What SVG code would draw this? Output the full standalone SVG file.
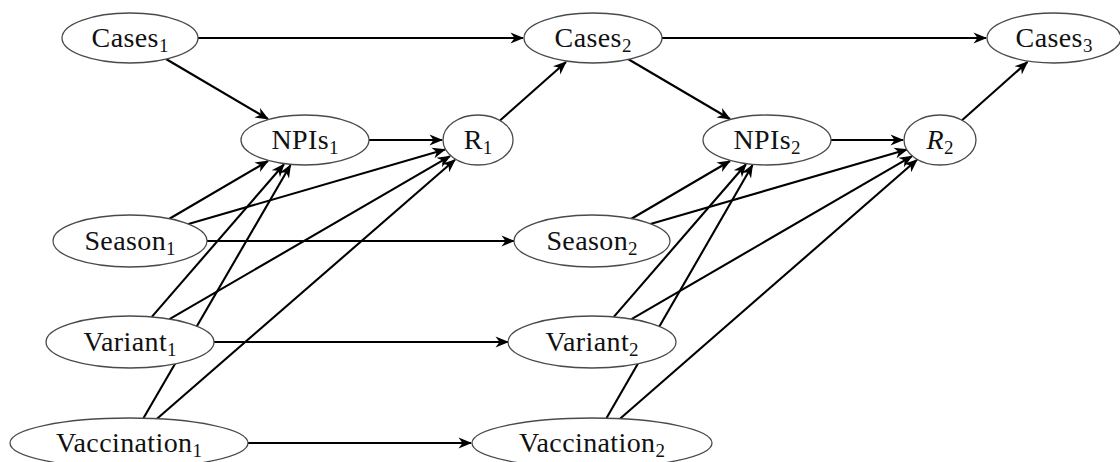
<svg xmlns="http://www.w3.org/2000/svg" width="1120" height="462" viewBox="0 0 1120 462">
<style>
.n ellipse{fill:#fff;stroke:#4a4a4a;stroke-width:1.3}
.n text{font-family:"Liberation Serif","Times New Roman",serif;font-size:28px;letter-spacing:0.4px;fill:#111;text-anchor:middle}
.sub{font-size:19px;letter-spacing:0}
#edges line{stroke:#000;stroke-width:2.1;fill:none;marker-end:url(#arr)}
</style>
<defs>
<marker id="arr" markerUnits="userSpaceOnUse" markerWidth="16" markerHeight="14" viewBox="-14 -7 16 14" refX="0" refY="0" orient="auto">
<path d="M1,0 L-12.5,-5.5 L-8.5,0 L-12.5,5.5 Z" fill="#000"/>
</marker>
</defs>
<rect width="1120" height="462" fill="#fff"/>
<g id="edges">
<line x1="198" y1="38" x2="523" y2="38"/>
<line x1="661" y1="38" x2="986" y2="38"/>
<line x1="166" y1="59" x2="268" y2="119"/>
<line x1="628" y1="59" x2="730" y2="119"/>
<line x1="369" y1="140" x2="442" y2="140"/>
<line x1="831" y1="140" x2="903" y2="140"/>
<line x1="500" y1="120.5" x2="566" y2="62"/>
<line x1="962" y1="120.3" x2="1027.5" y2="62"/>
<line x1="169" y1="219" x2="268" y2="161"/>
<line x1="188.4" y1="224" x2="445" y2="149.6"/>
<line x1="207" y1="241" x2="514" y2="241"/>
<line x1="151.8" y1="316.9" x2="284" y2="164.3"/>
<line x1="169.5" y1="319.1" x2="450" y2="156.2"/>
<line x1="214" y1="342" x2="508" y2="342"/>
<line x1="143.4" y1="418.2" x2="290.5" y2="165"/>
<line x1="157" y1="418.7" x2="455" y2="159.8"/>
<line x1="248" y1="443" x2="471" y2="443"/>
<line x1="631" y1="219" x2="730" y2="161"/>
<line x1="650.4" y1="224" x2="907" y2="149.6"/>
<line x1="613.8" y1="316.9" x2="746" y2="164.3"/>
<line x1="631.5" y1="319.1" x2="912" y2="156.2"/>
<line x1="606.4" y1="418.2" x2="752.5" y2="165"/>
<line x1="620" y1="418.7" x2="917" y2="159.8"/>
</g>
<g id="cases1" class="n"><ellipse cx="130" cy="38" rx="68" ry="25"/><text x="130" y="47">Cases<tspan class="sub" dy="5">1</tspan></text></g>
<g id="cases2" class="n"><ellipse cx="593" cy="38" rx="69" ry="25"/><text x="593" y="47">Cases<tspan class="sub" dy="5">2</tspan></text></g>
<g id="cases3" class="n"><ellipse cx="1054" cy="38" rx="67" ry="25"/><text x="1054" y="47">Cases<tspan class="sub" dy="5">3</tspan></text></g>
<g id="npis1" class="n"><ellipse cx="305" cy="140" rx="64" ry="25"/><text x="305" y="149">NPIs<tspan class="sub" dy="5">1</tspan></text></g>
<g id="npis2" class="n"><ellipse cx="767" cy="140" rx="64" ry="25"/><text x="767" y="149">NPIs<tspan class="sub" dy="5">2</tspan></text></g>
<g id="r1" class="n"><ellipse cx="478" cy="140" rx="35" ry="25"/><text x="478" y="149">R<tspan class="sub" dy="5">1</tspan></text></g>
<g id="r2" class="n"><ellipse cx="940" cy="140" rx="36" ry="25"/><text x="940" y="149"><tspan font-style="italic">R</tspan><tspan class="sub" dy="5">2</tspan></text></g>
<g id="season1" class="n"><ellipse cx="130" cy="241" rx="77" ry="26"/><text x="130" y="250">Season<tspan class="sub" dy="5">1</tspan></text></g>
<g id="season2" class="n"><ellipse cx="592" cy="241" rx="78" ry="26"/><text x="592" y="250">Season<tspan class="sub" dy="5">2</tspan></text></g>
<g id="variant1" class="n"><ellipse cx="130" cy="342" rx="84" ry="26"/><text x="130" y="351">Variant<tspan class="sub" dy="5">1</tspan></text></g>
<g id="variant2" class="n"><ellipse cx="592" cy="342" rx="84" ry="26"/><text x="592" y="351">Variant<tspan class="sub" dy="5">2</tspan></text></g>
<g id="vaccination1" class="n"><ellipse cx="129" cy="443" rx="119" ry="25"/><text x="129" y="452">Vaccination<tspan class="sub" dy="5">1</tspan></text></g>
<g id="vaccination2" class="n"><ellipse cx="592" cy="443" rx="120" ry="25"/><text x="592" y="452">Vaccination<tspan class="sub" dy="5">2</tspan></text></g>
</svg>
